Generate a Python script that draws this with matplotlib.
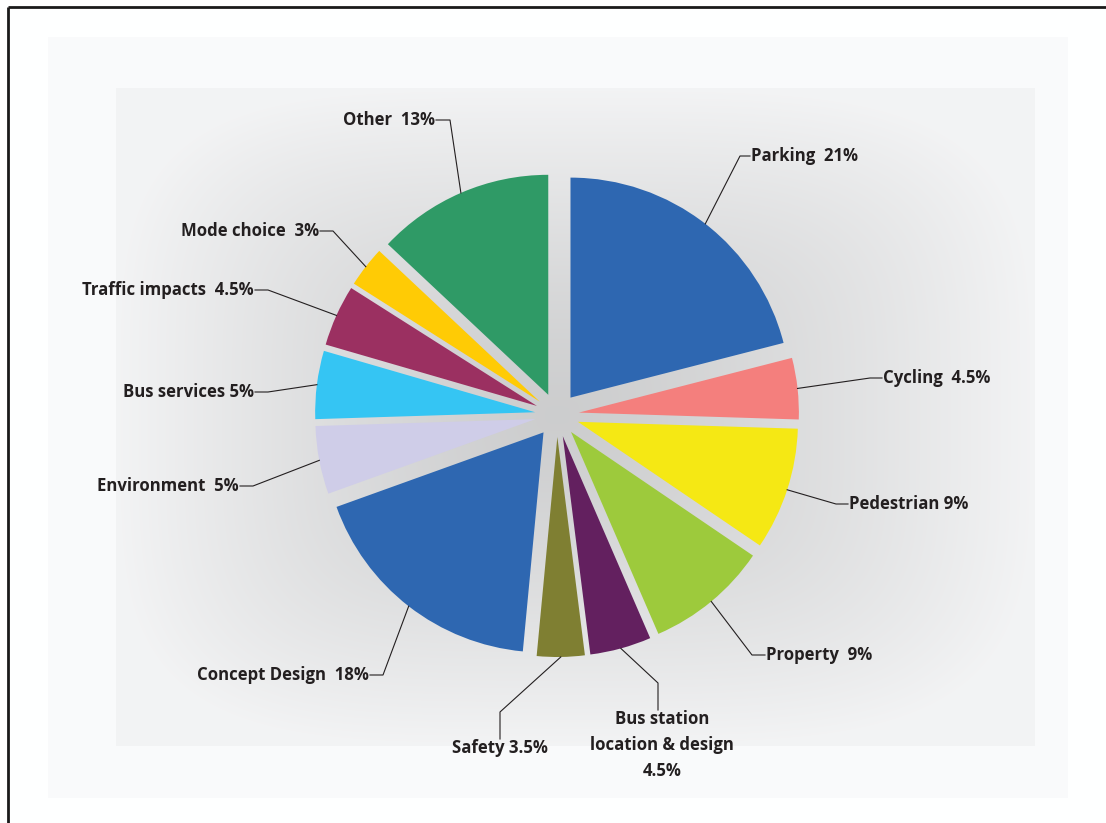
import numpy as np
import matplotlib.pyplot as plt
from matplotlib.lines import Line2D

# share of comments by topic
topics = ["Parking", "Cycling", "Pedestrian", "Property",
          "Bus station\nlocation & design", "Safety", "Concept Design",
          "Environment", "Bus services", "Traffic impacts", "Mode choice", "Other"]
shares = [21, 4.5, 9, 9, 4.5, 3.5, 18, 5, 5, 4.5, 3, 13]
share_text = ["21%", "4.5%", "9%", "9%", "4.5%", "3.5%", "18%", "5%", "5%", "4.5%", "3%", "13%"]
gaps = ["  ", "  ", " ", "  ", "\n", " ", "  ", "  ", " ", "  ", "  ", "  "]
colors = ["#2e67b1", "#f47f7d", "#f5e814", "#9dca3c", "#63205f", "#7f7f32",
          "#2e67b1", "#cfcde8", "#35c5f3", "#9b3061", "#ffcb05", "#2f9a66"]

W, H = 1106, 823
cx, cy, R = 557, 415, 220

fig = plt.figure(figsize=(W / 100, H / 100), dpi=100)
ax = fig.add_axes([0, 0, 1, 1])

# soft grey backdrop behind the pie
xx, yy = np.meshgrid(np.arange(W) + 0.5, np.arange(H) + 0.5)
tx = np.where(xx < cx, (cx - xx) / (cx - 116), (xx - cx) / (1035 - cx))
ty = np.where(yy < cy, (cy - yy) / (cy - 88), (yy - cy) / (746 - cy))
t = np.clip((tx ** 4 + ty ** 4) ** 0.25, 0, 1)
bg = 0.805 + (0.955 - 0.805) * t ** 1.3
outer = (xx > 48) & (xx < 1068) & (yy > 37) & (yy < 798)
inner = (xx > 116) & (xx < 1035) & (yy > 88) & (yy < 746)
img = np.ones((H, W))
img[outer] = 0.981
img[inner] = bg[inner]
ax.imshow(np.dstack([img * 0.997, img, img * 1.004]).clip(0, 1),
          extent=(0, W, H, 0), interpolation="bilinear", zorder=0)

wedges, _ = ax.pie(shares, colors=colors, startangle=-90, counterclock=True,
                   radius=R, center=(cx, cy), explode=[22] * len(shares),
                   wedgeprops=dict(linewidth=0), frame=True)
for w in wedges:
    w.set_zorder(2)

# label anchors: (elbow x, elbow y, text x, text y, side)
layout = [
    (740, 156, 750, 156, "left"),
    (870, 378, 882, 378, "left"),
    (836, 504, 848, 504, "left"),
    (752, 655, 765, 655, "left"),
    (658, 683, 658, 710, "bottom"),
    (500, 712, 500, 739, "bottom"),
    (383, 675, 370, 675, "right"),
    (253, 486, 240, 486, "right"),
    (268, 392, 255, 392, "right"),
    (268, 290, 255, 290, "right"),
    (333, 231, 320, 231, "right"),
    (450, 120, 436, 120, "right"),
]

ink = "#231f20"
font = dict(fontsize=12.1, fontweight="bold", family="Open Sans", color=ink, zorder=4)
for w, name, pct, gap, (ex, ey, lx, ly, side) in zip(wedges, topics, share_text, gaps, layout):
    mid = np.deg2rad((w.theta1 + w.theta2) / 2)
    px = w.center[0] + R * np.cos(mid)
    py = w.center[1] + R * np.sin(mid)
    ax.add_line(Line2D([px, ex, lx], [py, ey, ly], color=ink, lw=0.8, zorder=3))
    label = name + gap + pct
    if side == "left":
        ax.text(lx + 1, ly, label, ha="left", va="center", **font)
    elif side == "right":
        ax.text(lx - 1, ly, label, ha="right", va="center", **font)
    else:
        ax.text(lx + (4 if "\n" in label else 0), ly, label, ha="center", va="top",
                linespacing=1.58, **font)

ax.set_xlim(0, W)
ax.set_ylim(H, 0)
ax.axis("off")

# frame lines along the top and left edge
fig.add_artist(Line2D([8 / W, 8 / W], [0, 1 - 7 / H], color="#1a1a1a", lw=2,
                      solid_capstyle="butt"))
fig.add_artist(Line2D([8 / W, 1], [1 - 7 / H, 1 - 7 / H], color="#1a1a1a", lw=2,
                      solid_capstyle="butt"))

fig.savefig("out.png", dpi=100)
